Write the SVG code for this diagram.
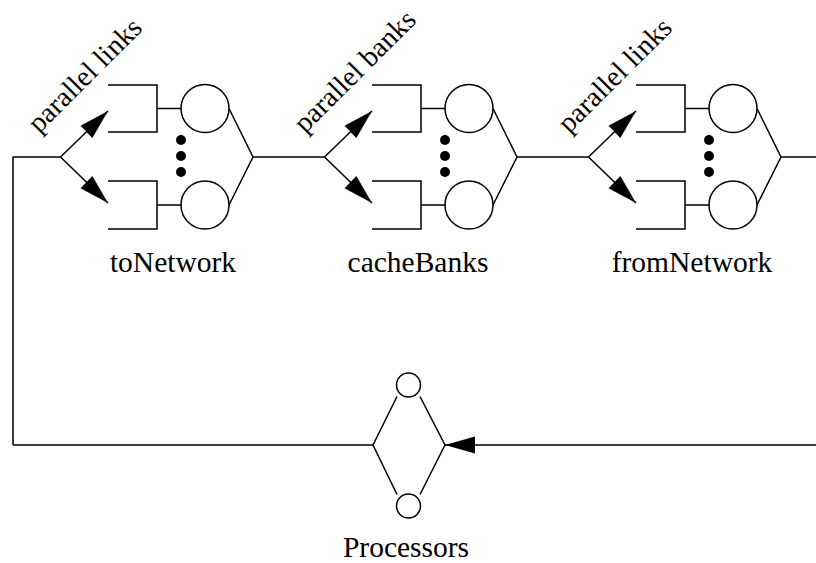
<svg xmlns="http://www.w3.org/2000/svg" width="816" height="563" viewBox="0 0 816 563">
<style>
.ln{stroke:#000;stroke-width:1.5;fill:none}
.cir{stroke:#000;stroke-width:1.5;fill:#fff}
.dot{fill:#000}
.lbl{font-family:"Liberation Serif","Times New Roman",serif;font-size:29.5px;fill:#000}
.rot{font-family:"Liberation Serif","Times New Roman",serif;font-size:28.5px;fill:#000}
</style>
<defs>
<marker id="ah" markerUnits="userSpaceOnUse" markerWidth="40" markerHeight="20" viewBox="-32 -10 34 20" refX="0" refY="0" orient="auto">
<path d="M0,0 L-30,-8.5 L-30,8.5 Z" fill="#000"/>
</marker>
<g id="stage">
<path class="ln" d="M48,85 H97 V132 H48 M97,108.5 H121 M48,181 H97 V229 H48 M97,205 H121 M169,108.5 L193,157 L169,205"/>
<circle class="cir" cx="145" cy="108.5" r="24"/>
<circle class="cir" cx="145" cy="205" r="24"/>
<circle class="dot" cx="121" cy="140" r="5"/>
<circle class="dot" cx="121" cy="156" r="5"/>
<circle class="dot" cx="121" cy="172" r="5"/>
</g>
</defs>
<g id="connectors">
<path class="ln" d="M13,445 V157 H60.5"/>
<path class="ln" d="M253,157 H324.5"/>
<path class="ln" d="M517,157 H588.5"/>
<path class="ln" d="M781,157 H816"/>
<path class="ln" d="M13,445 H373"/>
<line class="ln" x1="816" y1="445" x2="445" y2="445" marker-end="url(#ah)"/>
<line class="ln" x1="60.5" y1="157" x2="108" y2="111" marker-end="url(#ah)"/>
<line class="ln" x1="60.5" y1="157" x2="108" y2="203" marker-end="url(#ah)"/>
<line class="ln" x1="324.5" y1="157" x2="372" y2="111" marker-end="url(#ah)"/>
<line class="ln" x1="324.5" y1="157" x2="372" y2="203" marker-end="url(#ah)"/>
<line class="ln" x1="588.5" y1="157" x2="636" y2="111" marker-end="url(#ah)"/>
<line class="ln" x1="588.5" y1="157" x2="636" y2="203" marker-end="url(#ah)"/>
</g>
<g id="toNetwork">
<use href="#stage" x="60"/>
<text class="lbl" text-anchor="middle" x="173" y="272">toNetwork</text>
<text class="rot" transform="translate(39,134) rotate(-45)">parallel links</text>
</g>
<g id="cacheBanks">
<use href="#stage" x="324"/>
<text class="lbl" text-anchor="middle" x="418" y="272">cacheBanks</text>
<text class="rot" transform="translate(305,134) rotate(-45)">parallel banks</text>
</g>
<g id="fromNetwork">
<use href="#stage" x="588"/>
<text class="lbl" text-anchor="middle" x="692" y="272">fromNetwork</text>
<text class="rot" transform="translate(569,134) rotate(-45)">parallel links</text>
</g>
<g id="processors">
<path class="ln" d="M397,396.5 L373,445 L397,494.5 M420,396.5 L445,445 L420,494.5"/>
<circle class="cir" cx="408.5" cy="385" r="12"/>
<circle class="cir" cx="408.5" cy="506" r="12"/>
<text class="lbl" text-anchor="middle" x="406" y="557">Processors</text>
</g>
</svg>
